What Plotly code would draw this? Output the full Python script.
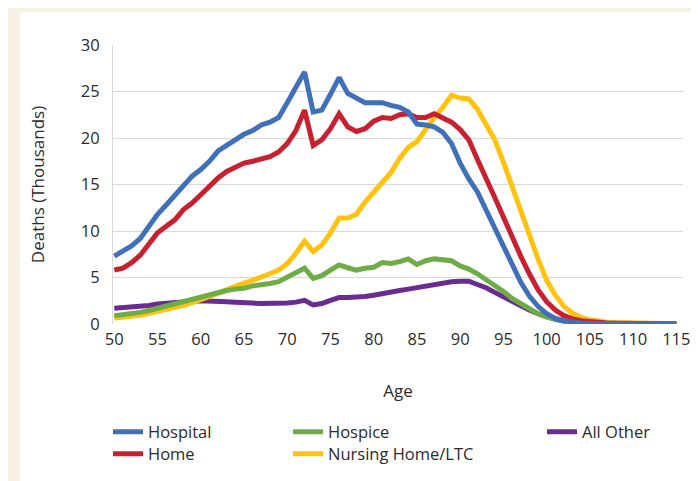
import plotly.graph_objects as go

ages = list(range(50, 116))

hospital = [7.3, 7.8, 8.4, 9.2, 10.5, 11.8, 12.8, 13.8, 14.8, 15.9,
            16.6, 17.5, 18.6, 19.2, 19.9, 20.4, 20.8, 21.4, 21.7, 22.2,
            23.8, 25.5, 27.1, 22.8, 23.0, 24.7, 26.5, 24.8, 24.3, 23.8,
            23.8, 23.8, 23.5, 23.3, 22.8, 21.5, 21.4, 21.2, 20.6, 19.4,
            17.3, 15.6, 14.2, 12.2, 10.4, 8.2, 6.3, 4.5, 3.0, 1.9,
            1.1, 0.6, 0.35, 0.2, 0.12, 0.08, 0.06, 0.05, 0.04, 0.03,
            0.03, 0.02, 0.02, 0.02, 0.01, 0.01]

home = [5.8, 6.0, 6.6, 7.4, 8.6, 9.8, 10.5, 11.2, 12.3, 13.0,
        13.9, 14.8, 15.7, 16.4, 16.9, 17.3, 17.5, 17.8, 18.0, 18.5,
        19.4, 20.8, 23.0, 19.2, 19.8, 21.0, 22.6, 21.2, 20.7, 21.0,
        21.8, 22.2, 22.1, 22.5, 22.6, 22.2, 22.2, 22.6, 22.1, 21.7,
        20.9, 19.8, 17.7, 15.8, 13.6, 11.5, 9.3, 7.3, 5.4, 3.7,
        2.4, 1.5, 0.9, 0.55, 0.35, 0.25, 0.17, 0.12, 0.09, 0.07,
        0.05, 0.04, 0.03, 0.02, 0.02, 0.01]

hospice = [0.9, 1.0, 1.1, 1.25, 1.45, 1.7, 1.95, 2.2, 2.45, 2.7,
           2.95, 3.2, 3.45, 3.6, 3.75, 3.85, 4.1, 4.2, 4.35, 4.55,
           5.0, 5.5, 6.0, 4.9, 5.2, 5.8, 6.35, 6.05, 5.8, 6.0,
           6.1, 6.6, 6.5, 6.7, 7.0, 6.4, 6.8, 7.0, 6.95, 6.8,
           6.25, 5.9, 5.4, 4.8, 4.2, 3.5, 2.75, 2.15, 1.6, 1.1,
           0.75, 0.5, 0.32, 0.2, 0.12, 0.08, 0.05, 0.04, 0.03, 0.02,
           0.02, 0.01, 0.01, 0.01, 0.01, 0.0]

nursing = [0.65, 0.72, 0.8, 0.95, 1.15, 1.35, 1.55, 1.75, 2.0, 2.3,
           2.6, 2.95, 3.3, 3.7, 4.1, 4.4, 4.7, 5.0, 5.4, 5.8,
           6.5, 7.6, 8.9, 7.8, 8.5, 9.8, 11.4, 11.4, 11.8, 13.1,
           14.2, 15.4, 16.3, 17.8, 19.0, 19.6, 21.0, 22.2, 23.3, 24.6,
           24.3, 24.2, 23.1, 21.4, 19.8, 17.4, 14.9, 12.3, 9.6, 7.0,
           4.7, 3.1, 1.9, 1.15, 0.7, 0.45, 0.3, 0.2, 0.15, 0.12,
           0.1, 0.08, 0.06, 0.05, 0.04, 0.03]

all_other = [1.7, 1.75, 1.8, 1.9, 2.0, 2.15, 2.25, 2.3, 2.35, 2.45,
             2.5, 2.5, 2.5, 2.4, 2.35, 2.35, 2.25, 2.2, 2.2, 2.2,
             2.25, 2.35, 2.55, 2.05, 2.2, 2.55, 2.85, 2.85, 2.85, 2.95,
             3.1, 3.3, 3.4, 3.6, 3.75, 3.9, 4.05, 4.2, 4.45, 4.55,
             4.6, 4.6, 4.25, 3.9, 3.4, 2.9, 2.4, 1.95, 1.5, 1.1,
             0.75, 0.5, 0.32, 0.2, 0.13, 0.09, 0.06, 0.05, 0.04, 0.03,
             0.02, 0.02, 0.01, 0.01, 0.01, 0.01]

x_ticks = list(range(50, 116, 5))
y_ticks = [0, 5, 10, 15, 20, 25, 30]

FONT = "Open Sans"
TXT = "#2B2B2B"

W, H = 699, 481
L, R, T, B = 105, 24, 37, 165
pw, ph = W - L - R, H - T - B


def px2x(px):
    return (px - L) / pw


def py2y(py):
    return (H - B - py) / ph


ROW1, ROW2 = 424, 446
# (name, values, color, legend id, legend left px, legend row-centre px) -- drawn in this order
series = [
    ("All Other", all_other, "#6A2C91", "legend5", 534, ROW1),
    ("Nursing Home/LTC", nursing, "#FFC20E", "legend4", 280, ROW2),
    ("Hospice", hospice, "#6EAD45", "legend3", 280, ROW1),
    ("Home", home, "#C8202F", "legend2", 100, ROW2),
    ("Hospital", hospital, "#3F70B9", "legend", 100, ROW1),
]

fig = go.Figure()
legends = {}
for name, vals, color, leg, lx, ly in series:
    fig.add_trace(go.Scatter(
        x=ages, y=vals, mode="lines", name=name,
        line=dict(color=color, width=5),
        legend=leg, showlegend=True,
    ))
    legends[leg] = dict(x=px2x(lx), y=py2y(ly), xanchor="left", yanchor="middle",
                        orientation="v", bgcolor="rgba(0,0,0,0)", borderwidth=0,
                        font=dict(family=FONT, size=16.5, color=TXT), itemwidth=30)

beige = "#F7F1E3"
shapes = [
    dict(type="rect", xref="paper", yref="paper", layer="below",
         x0=px2x(0), x1=px2x(12), y0=py2y(H), y1=py2y(0),
         fillcolor=beige, line=dict(width=0)),
    dict(type="rect", xref="paper", yref="paper", layer="below",
         x0=px2x(0), x1=px2x(W), y0=py2y(4), y1=py2y(0),
         fillcolor=beige, line=dict(width=0)),
]

fig.update_layout(
    width=W, height=H,
    margin=dict(l=L, r=R, t=T, b=B, autoexpand=False),
    paper_bgcolor="white", plot_bgcolor="white",
    font=dict(family=FONT, size=16, color=TXT),
    showlegend=True,
    shapes=shapes,
    xaxis=dict(
        range=[49.85, 115.77], tickmode="array", tickvals=x_ticks,
        ticktext=[str(v) for v in x_ticks],
        showgrid=False, zeroline=False, showline=False,
        ticks="", ticklabelstandoff=3,
        tickfont=dict(family=FONT, size=16.5, color=TXT),
        title=dict(text="Age", font=dict(family=FONT, size=17, color=TXT), standoff=36),
        automargin=False,
    ),
    yaxis=dict(
        range=[0, 30], tickmode="array", tickvals=y_ticks,
        showgrid=True, gridcolor="#D9D9D9", gridwidth=1,
        zeroline=False, showline=True, linecolor="#D9D9D9", linewidth=1,
        ticks="", ticklabelstandoff=9,
        tickfont=dict(family=FONT, size=16.5, color=TXT),
        title=dict(text="Deaths (Thousands)", font=dict(family=FONT, size=17, color=TXT), standoff=31),
        automargin=False,
    ),
)
fig.update_layout(**legends)

fig.write_html("out.html")
